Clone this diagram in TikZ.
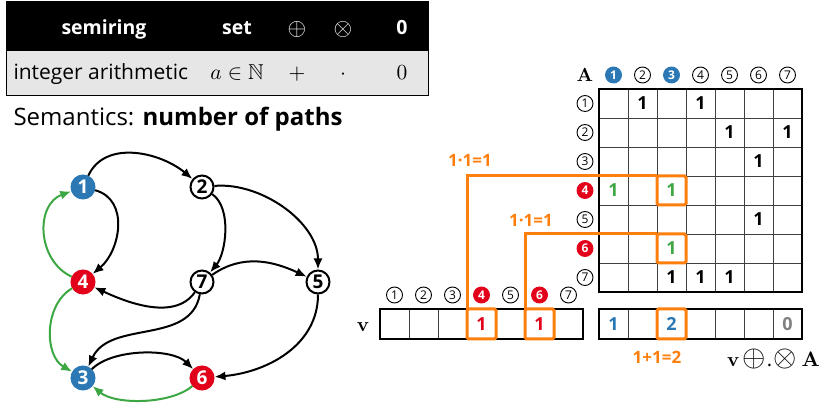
\RequirePackage{fix-cm}
\documentclass[tikz,border=0pt]{standalone}
\usepackage{graphicx}
\usepackage{amssymb}
\usepackage[no-math]{fontspec}
\setmainfont{Open Sans}
\usetikzlibrary{arrows.meta}

\definecolor{nodeblue}{HTML}{2B78B4}
\definecolor{nodered}{HTML}{E2001A}
\definecolor{pathgreen}{HTML}{3DA843}
\definecolor{hitorange}{HTML}{FF7F0E}
\definecolor{rowgray}{HTML}{E6E6E6}

\def\cw{29}   % cell width
\def\mx{599}  % matrix left
\def\my{320}  % matrix top
\def\vx{380}  % vector v left
\def\rx{599}  % result vector left
\def\vy{100}  % vector top

\begin{document}
\begin{tikzpicture}[x=1pt,y=1pt,>={Latex[length=11pt,width=9pt]}]
    \tikzstyle{vertex}=[circle,draw=black,line width=2pt,fill=white,minimum size=23pt,inner sep=0pt,font=\fontsize{19}{19}\selectfont\bfseries]
    \tikzstyle{blue vertex}=[vertex,draw=nodeblue,fill=nodeblue,text=white]
    \tikzstyle{red vertex}=[vertex,draw=nodered,fill=nodered,text=white]
    \tikzstyle{link}=[->,line width=2pt,black]
    \tikzstyle{back link}=[link,pathgreen]
    \tikzstyle{num}=[circle,draw=black,fill=white,line width=0.9pt,minimum size=16pt,inner sep=0pt,font=\fontsize{12}{12}\selectfont]
    \tikzstyle{blue num}=[num,draw=nodeblue,fill=nodeblue,text=white,font=\fontsize{12}{12}\selectfont\bfseries]
    \tikzstyle{red num}=[num,draw=nodered,fill=nodered,text=white,font=\fontsize{12}{12}\selectfont\bfseries]
    \tikzstyle{value}=[inner sep=0pt,font=\fontsize{18}{18}\selectfont\bfseries]
    \tikzstyle{entry}=[value,minimum width=\cw pt,minimum height=\cw pt,outer sep=0pt]
    \tikzstyle{hit}=[entry,draw=hitorange,line width=3pt,rounded corners=1.5pt]
    \tikzstyle{hitline}=[hitorange,line width=3pt]
    \tikzstyle{sumlabel}=[text=hitorange,font=\fontsize{17}{17}\selectfont\bfseries]
    \tikzstyle{gridline}=[line width=0.8pt,black!75]
    \tikzstyle{thickframe}=[line width=2.5pt,black]
    \tikzstyle{head}=[anchor=base,text=white,font=\fontsize{19.5}{20}\selectfont\bfseries]
    \tikzstyle{body}=[anchor=base,font=\fontsize{21}{21}\selectfont]
    \tikzstyle{mathsym}=[anchor=base,font=\fontsize{10}{12}\selectfont]

    \useasboundingbox (0,0) rectangle (827,409);

    % Draw the semiring table
    \fill[black] (6,407) rectangle (428,358);
    \fill[rowgray] (6,358) rectangle (428,313);
    \draw[line width=1pt] (6,407) rectangle (428,313);
    \node[head] (h-name) at (104,374) {semiring};
    \node[head] (h-set) at (237,374) {set};
    \node[mathsym,text=white] (h-plus) at (297,373) {\scalebox{2.4}{$\oplus$}};
    \node[mathsym,text=white] (h-times) at (343,373) {\scalebox{2.4}{$\otimes$}};
    \node[head] (h-zero) at (402,374) {0};
    \node[body,anchor=base west] (r-name) at (10,329) {integer arithmetic};
    \node[mathsym] (r-set) at (237,329) {\scalebox{2.15}{$a\in\mathbb{N}$}};
    \node[mathsym] (r-plus) at (297,329) {\scalebox{2.15}{$+$}};
    \node[mathsym] (r-times) at (343,329) {\scalebox{2.15}{$\cdot$}};
    \node[mathsym] (r-zero) at (402,329) {\scalebox{2.15}{$0$}};
    \node[anchor=base west,font=\fontsize{24}{24}\selectfont] (sem) at (10,283) {Semantics: \textbf{number of paths}};

    % Draw the graph nodes
    \node[blue vertex] (n1) at (83,222) {1};
    \node[vertex] (n2) at (202,222) {2};
    \node[red vertex] (n4) at (83,127) {4};
    \node[vertex] (n7) at (202,127) {7};
    \node[vertex] (n5) at (318,127) {5};
    \node[blue vertex] (n3) at (83,31) {3};
    \node[red vertex] (n6) at (202,31) {6};

    % Connect the graph nodes
    \draw[link] (n1) to[out=65,in=140] (n2);
    \draw[link] (n1) to[out=-15,in=40,looseness=1.1] (n4);
    \draw[link] (n2) to[out=-35,in=50,looseness=0.8] (n7);
    \draw[link] (n2) to[out=5,in=90,looseness=0.9] (n5);
    \draw[link] (n7) to[out=35,in=155] (n5);
    \draw[link] (n7) to[out=-125,in=-25,looseness=0.9] (n4);
    \draw[link] (n7) to[out=-100,in=65] (n3);
    \draw[link] (n3) to[out=45,in=135,looseness=0.75] (n6);
    \draw[link] (n5) to[out=-90,in=5] (n6);
    \draw[back link] (n4) to[out=155,in=200,looseness=1.15] (n1);
    \draw[back link] (n4) to[out=-150,in=150] (n3);
    \draw[back link] (n6) to[out=-140,in=-40,looseness=0.75] (n3);

    % Draw the matrix grid
    \foreach \i in {1,...,6} {
        \draw[gridline] (\mx+\i*\cw,\my) -- (\mx+\i*\cw,\my-7*\cw);
        \draw[gridline] (\mx,\my-\i*\cw) -- (\mx+7*\cw,\my-\i*\cw);
    }
    \draw[thickframe] (\mx,\my) rectangle (\mx+7*\cw,\my-7*\cw);

    % Annotate the matrix
    \node[mathsym] (A) at (585,327) {\scalebox{1.9}{$\mathbf{A}$}};
    \foreach \c in {2,4,5,6,7}
        \node[num] (col-\c) at ({\mx+(\c-0.5)*\cw},334) {\c};
    \node[blue num] (col-1) at ({\mx+0.5*\cw},334) {1};
    \node[blue num] (col-3) at ({\mx+2.5*\cw},334) {3};
    \foreach \r in {1,2,3,5,7}
        \node[num] (row-\r) at (585,{\my-(\r-0.5)*\cw}) {\r};
    \node[red num] (row-4) at (585,{\my-3.5*\cw}) {4};
    \node[red num] (row-6) at (585,{\my-5.5*\cw}) {6};

    % Fill the matrix entries
    \foreach \r/\c in {1/2,1/4,2/5,2/7,3/6,5/6,7/3,7/4,7/5}
        \node[entry] (a-\r-\c) at ({\mx+(\c-0.5)*\cw},{\my-(\r-0.5)*\cw}) {1};
    \node[entry,text=pathgreen] (a-4-1) at ({\mx+0.5*\cw},{\my-3.5*\cw}) {1};
    \node[hit,text=pathgreen] (a-4-3) at ({\mx+2.5*\cw},{\my-3.5*\cw}) {1};
    \node[hit,text=pathgreen] (a-6-3) at ({\mx+2.5*\cw},{\my-5.5*\cw}) {1};

    % Draw the vector v
    \foreach \i in {1,...,6}
        \draw[gridline] (\vx+\i*\cw,\vy) -- (\vx+\i*\cw,\vy-30);
    \draw[thickframe] (\vx,\vy) rectangle (\vx+7*\cw,\vy-30);
    \node[mathsym] (v) at (363,77) {\scalebox{2}{$\mathbf{v}$}};
    \foreach \c in {1,2,3,5,7}
        \node[num] (vcol-\c) at ({\vx+(\c-0.5)*\cw},114) {\c};
    \node[red num] (vcol-4) at ({\vx+3.5*\cw},114) {4};
    \node[red num] (vcol-6) at ({\vx+5.5*\cw},114) {6};
    \node[hit,minimum height=30pt,text=nodered] (v-4) at ({\vx+3.5*\cw},\vy-15) {1};
    \node[hit,minimum height=30pt,text=nodered] (v-6) at ({\vx+5.5*\cw},\vy-15) {1};

    % Draw the result vector
    \foreach \i in {1,...,6}
        \draw[gridline] (\rx+\i*\cw,\vy) -- (\rx+\i*\cw,\vy-30);
    \draw[thickframe] (\rx,\vy) rectangle (\rx+7*\cw,\vy-30);
    \node[value,text=nodeblue] (w-1) at ({\rx+0.5*\cw},\vy-15) {1};
    \node[hit,minimum height=30pt,text=nodeblue] (w-3) at ({\rx+2.5*\cw},\vy-15) {2};
    \node[value,text=black!50] (w-7) at ({\rx+6.5*\cw},\vy-15) {0};

    % Connect the hits
    \draw[hitline] (v-4.north west) |- (a-4-3.north west);
    \draw[hitline] (v-6.north west) |- (a-6-3.north west);
    \node[sumlabel] (p-4) at (470,249) {1·1=1};
    \node[sumlabel] (p-6) at (531,189) {1·1=1};
    \node[sumlabel] (s-3) at (657,52) {1+1=2};
    \node[mathsym,anchor=base east,inner sep=1pt] (res) at (821,42)
        {\scalebox{2}{$\mathbf{v}$}\kern3pt\scalebox{3}{$\oplus$}\kern1pt\scalebox{2}{.}\kern1pt\scalebox{3}{$\otimes$}\kern5pt\scalebox{2.1}{$\mathbf{A}$}};
\end{tikzpicture}
\end{document}
